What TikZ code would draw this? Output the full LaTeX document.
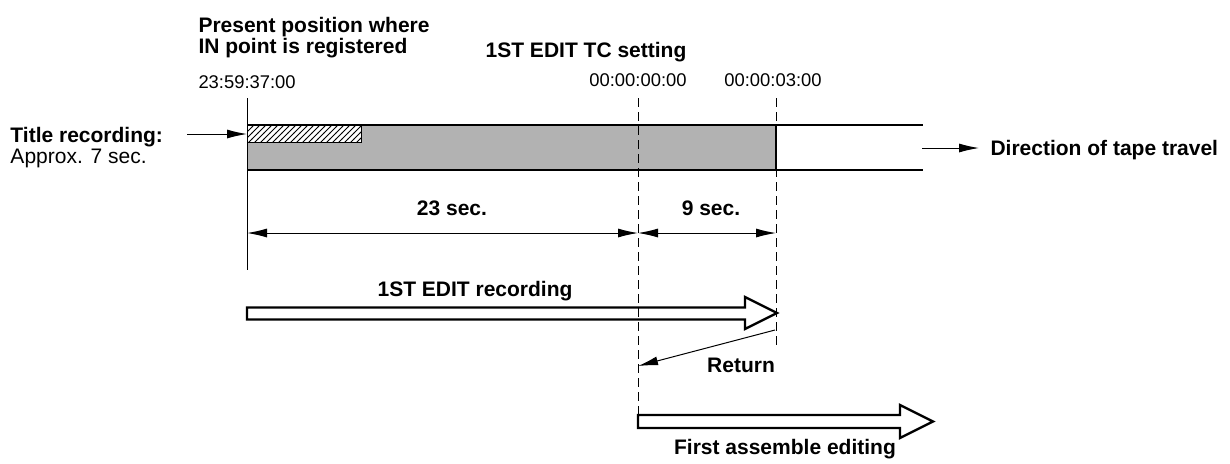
\documentclass[tikz,border=0pt]{standalone}
\usepackage{fontspec}
\setmainfont{Liberation Sans}
\usetikzlibrary{arrows.meta, positioning, patterns}
\tikzset{
    tapediagram/.style={x=0.5pt, y=-0.5pt, >={Latex[length=10pt, width=4.5pt]}, line width=0.5pt},
    lbl/.style={font=\fontsize{10.5}{12}\selectfont\bfseries, inner sep=0pt},
    note/.style={font=\fontsize{10.5}{12}\selectfont, inner sep=0pt},
    tc/.style={font=\fontsize{9.2}{11}\selectfont, inner sep=0pt},
    cueline/.style={dash pattern=on 4.5pt off 2.5pt},
    tapeedge/.style={line width=0.8pt},
    % outline arrows for the recording passes
    hollow/.style={draw, fill=white, line width=1.2pt},
}

\begin{document}
\begin{tikzpicture}[tapediagram]
    \useasboundingbox (0,0) rectangle (1230,463);

    \coordinate (inTop)    at (247,98);
    \coordinate (inBot)    at (247,270);
    \coordinate (zeroTop)  at (638,98);
    \coordinate (zeroBot)  at (638,415);
    \coordinate (endTop)   at (776,98);
    \coordinate (endBot)   at (776,345);
    \coordinate (dimA)     at (247,233);
    \coordinate (dimB)     at (638,233);
    \coordinate (dimC)     at (776,233);
    \coordinate (retFrom)  at (775,330);
    \coordinate (retTo)    at (638,366);
    \coordinate (titleFrom) at (187,134);
    \coordinate (titleTo)  at (247,134);
    \coordinate (dirFrom)  at (922,148);
    \coordinate (dirTo)    at (979,148);

    % tape
    \fill[black!30] (247,125) rectangle (776,170);
    \draw[fill=white, postaction={pattern=north east lines}] (247,125) rectangle (361,142);
    \draw[tapeedge] (247,125) -- (923,125) (247,170) -- (923,170);
    \draw[tapeedge] (776,125) -- (776,170);

    % labels
    \node[lbl, anchor=base west] (present)    at (198,32)  {Present position where};
    \node[lbl, anchor=base west] (registered) at (198,53)  {IN point is registered};
    \node[tc,  anchor=base west] (tcIn)       at (198,88)  {23:59:37:00};
    \node[lbl, anchor=base]      (tcSet)      at (586,57)  {1ST EDIT TC setting};
    \node[tc,  anchor=base]      (tcZero)     at (638,86)  {00:00:00:00};
    \node[tc,  anchor=base]      (tcEnd)      at (773,86)  {00:00:03:00};
    \node[lbl, anchor=base west] (title)      at (10,142)  {Title recording:};
    \node[note, anchor=base west] (approx)    at (10,163)  {Approx. 7 sec.};
    \node[lbl, anchor=base west] (dir)        at (990,155) {Direction of tape travel};
    \node[lbl, anchor=base]      (sec23)      at (452,215) {23 sec.};
    \node[lbl, anchor=base]      (sec9)       at (711,215) {9 sec.};
    \node[lbl, anchor=base]      (recording)  at (475,296) {1ST EDIT recording};
    \node[lbl, anchor=base]      (ret)        at (741,372) {Return};
    \node[lbl, anchor=base]      (assemble)   at (785,454) {First assemble editing};

    % recording passes
    \draw[hollow] (247,307.5) -- (745,307.5) -- (745,297) -- (777,313) -- (745,329) -- (745,319.5) -- (247,319.5) -- cycle;
    \draw[hollow] (638,415) -- (900,415) -- (900,405) -- (933,421.5) -- (900,438) -- (900,428) -- (638,428) -- cycle;

    \draw (inTop) -- (inBot);
    \draw[cueline] (zeroTop) -- (zeroBot);
    \draw[cueline] (endTop) -- (endBot);

    \draw[->] (titleFrom) -- (titleTo);
    \draw[->] (dirFrom) -- (dirTo);
    \draw[<->] (dimA) -- (dimB);
    \draw[<->] (dimB) -- (dimC);
    \draw[->] (retFrom) -- (retTo);
\end{tikzpicture}
\end{document}
